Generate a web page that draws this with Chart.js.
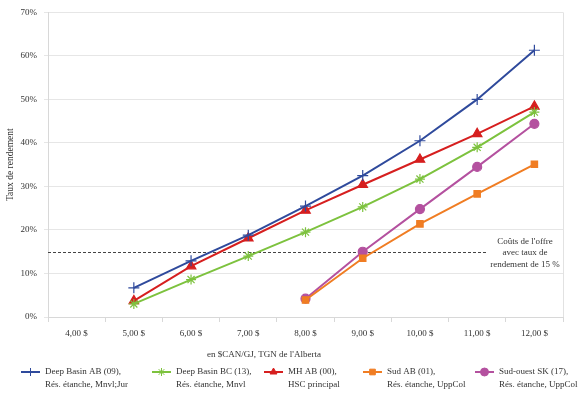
<!DOCTYPE html>
<html>
<head>
<meta charset="utf-8">
<script src="https://cdn.jsdelivr.net/npm/chart.js"></script>
<style>
  body { margin: 0; background: #fff; }
  #wrap { width: 580px; height: 395px; }
</style>
</head>
<body>
<div id="wrap"><canvas id="chart" width="580" height="395"></canvas></div>
<script>
// prix en $CAN/GJ
const labels = ['4,00 $', '5,00 $', '6,00 $', '7,00 $', '8,00 $', '9,00 $', '10,00 $', '11,00 $', '12,00 $'];

// taux de rendement (%)
const deepBasinAB = [null, 6.7, 12.9, 18.8, 25.5, 32.5, 40.5, 50.0, 61.3];
const deepBasinBC = [null, 3.0, 8.6, 14.0, 19.5, 25.3, 31.7, 39.0, 47.1];
const mhAB = [null, 3.7, 11.7, 18.1, 24.5, 30.4, 36.2, 42.1, 48.4];
const sudAB = [null, null, null, null, 3.9, 13.5, 21.4, 28.3, 35.1];
const sudOuestSK = [null, null, null, null, 4.2, 15.0, 24.8, 34.5, 44.4];

const seuil = 15;
const seuilTexte = ["Coûts de l'offre", 'avec taux de', 'rendement de 15 %'];

const legendeTextes = [
  ['Deep Basin AB (09),', 'Rés. étanche, Mnvl;Jur'],
  ['Deep Basin BC (13),', 'Rés. étanche, Mnvl'],
  ['MH AB (00),', 'HSC principal'],
  ['Sud AB (01),', 'Rés. étanche, UppCol'],
  ['Sud-ouest SK (17),', 'Rés. étanche, UppCol'],
];
const legendeX = [21, 152, 264, 363, 475];

const serif = 'Liberation Serif';
const texte = '#333333';

const extras = {
  id: 'extras',
  beforeDatasetsDraw(chart) {
    const { ctx, chartArea, scales } = chart;
    ctx.save();
    // bordure droite
    ctx.strokeStyle = '#e2e2e2';
    ctx.lineWidth = 1;
    ctx.beginPath();
    ctx.moveTo(chartArea.right + 0.5, chartArea.top);
    ctx.lineTo(chartArea.right + 0.5, chartArea.bottom);
    ctx.stroke();
    // seuil 15 %
    const y = Math.round(scales.y.getPixelForValue(seuil)) + 0.5;
    const xFin = scales.x.getPixelForValue(7.16);
    ctx.strokeStyle = '#444';
    ctx.setLineDash([3, 2]);
    ctx.beginPath();
    ctx.moveTo(chartArea.left, y);
    ctx.lineTo(xFin, y);
    ctx.stroke();
    ctx.setLineDash([]);
    ctx.fillStyle = texte;
    ctx.font = '9px "' + serif + '"';
    ctx.textAlign = 'center';
    ctx.textBaseline = 'middle';
    seuilTexte.forEach((t, i) => ctx.fillText(t, 525, y - 11 + i * 11.5));
    ctx.restore();
  },
  afterDraw(chart) {
    const { ctx, chartArea } = chart;
    ctx.save();
    ctx.fillStyle = texte;
    ctx.font = '9px "' + serif + '"';
    ctx.textAlign = 'center';
    ctx.textBaseline = 'middle';
    ctx.fillText("en $CAN/GJ, TGN de l'Alberta", 264, chartArea.bottom + 38);

    // légende
    const yL = chartArea.bottom + 55;
    chart.data.datasets.forEach((ds, i) => {
      const x0 = legendeX[i];
      ctx.strokeStyle = ds.borderColor;
      ctx.fillStyle = ds.borderColor;
      ctx.lineWidth = 2;
      ctx.beginPath();
      ctx.moveTo(x0, yL);
      ctx.lineTo(x0 + 19, yL);
      ctx.stroke();
      ctx.lineWidth = 1;
      Chart.helpers.drawPoint(ctx, {
        pointStyle: ds.pointStyle,
        radius: 4,
        borderWidth: 1,
      }, x0 + 9.5, yL);
      ctx.fillStyle = texte;
      ctx.textAlign = 'left';
      legendeTextes[i].forEach((t, j) => ctx.fillText(t, x0 + 24, yL + j * 13));
    });
    ctx.restore();
  },
};

const serie = (label, data, couleur, style, rayon) => ({
  label,
  data,
  borderColor: couleur,
  backgroundColor: couleur,
  pointBackgroundColor: couleur,
  pointBorderColor: couleur,
  pointStyle: style,
  pointRadius: rayon,
  pointHoverRadius: rayon,
  pointBorderWidth: 1.2,
  borderWidth: 2,
  tension: 0,
});

const ctx = document.getElementById('chart').getContext('2d');
const myChart = new Chart(ctx, {
  type: 'line',
  data: {
    labels: labels,
    datasets: [
      serie('Deep Basin AB (09)', deepBasinAB, '#2f4a9c', 'cross', 5.5),
      serie('Deep Basin BC (13)', deepBasinBC, '#7dc23e', 'star', 5),
      serie('MH AB (00)', mhAB, '#d61f1f', 'triangle', 5.5),
      serie('Sud AB (01)', sudAB, '#f07d23', 'rect', 4.5),
      serie('Sud-ouest SK (17)', sudOuestSK, '#b4519f', 'circle', 4.5),
    ],
  },
  options: {
    responsive: false,
    animation: false,
    spanGaps: false,
    layout: { padding: { top: 11, right: 17, left: 0, bottom: 0 } },
    plugins: {
      legend: { display: false },
      tooltip: { enabled: false },
    },
    scales: {
      x: {
        offset: true,
        grid: { offset: true, drawOnChartArea: false, color: '#d8d8d8', tickLength: 5 },
        border: { color: '#d8d8d8' },
        ticks: { color: texte, padding: 6, font: { family: serif, size: 9 } },
        afterFit: (s) => { s.height = 78; },
      },
      y: {
        min: 0,
        max: 70,
        grid: { color: '#e6e6e6', tickLength: 4 },
        border: { color: '#d8d8d8' },
        ticks: {
          stepSize: 10,
          color: texte,
          padding: 7,
          font: { family: serif, size: 9 },
          callback: (v) => v + '%',
        },
        title: {
          display: true,
          text: 'Taux de rendement',
          color: texte,
          padding: 5,
          font: { family: serif, size: 9.5 },
        },
        afterFit: (s) => { s.width = 48; },
      },
    },
  },
  plugins: [extras],
});
</script>
</body>
</html>
